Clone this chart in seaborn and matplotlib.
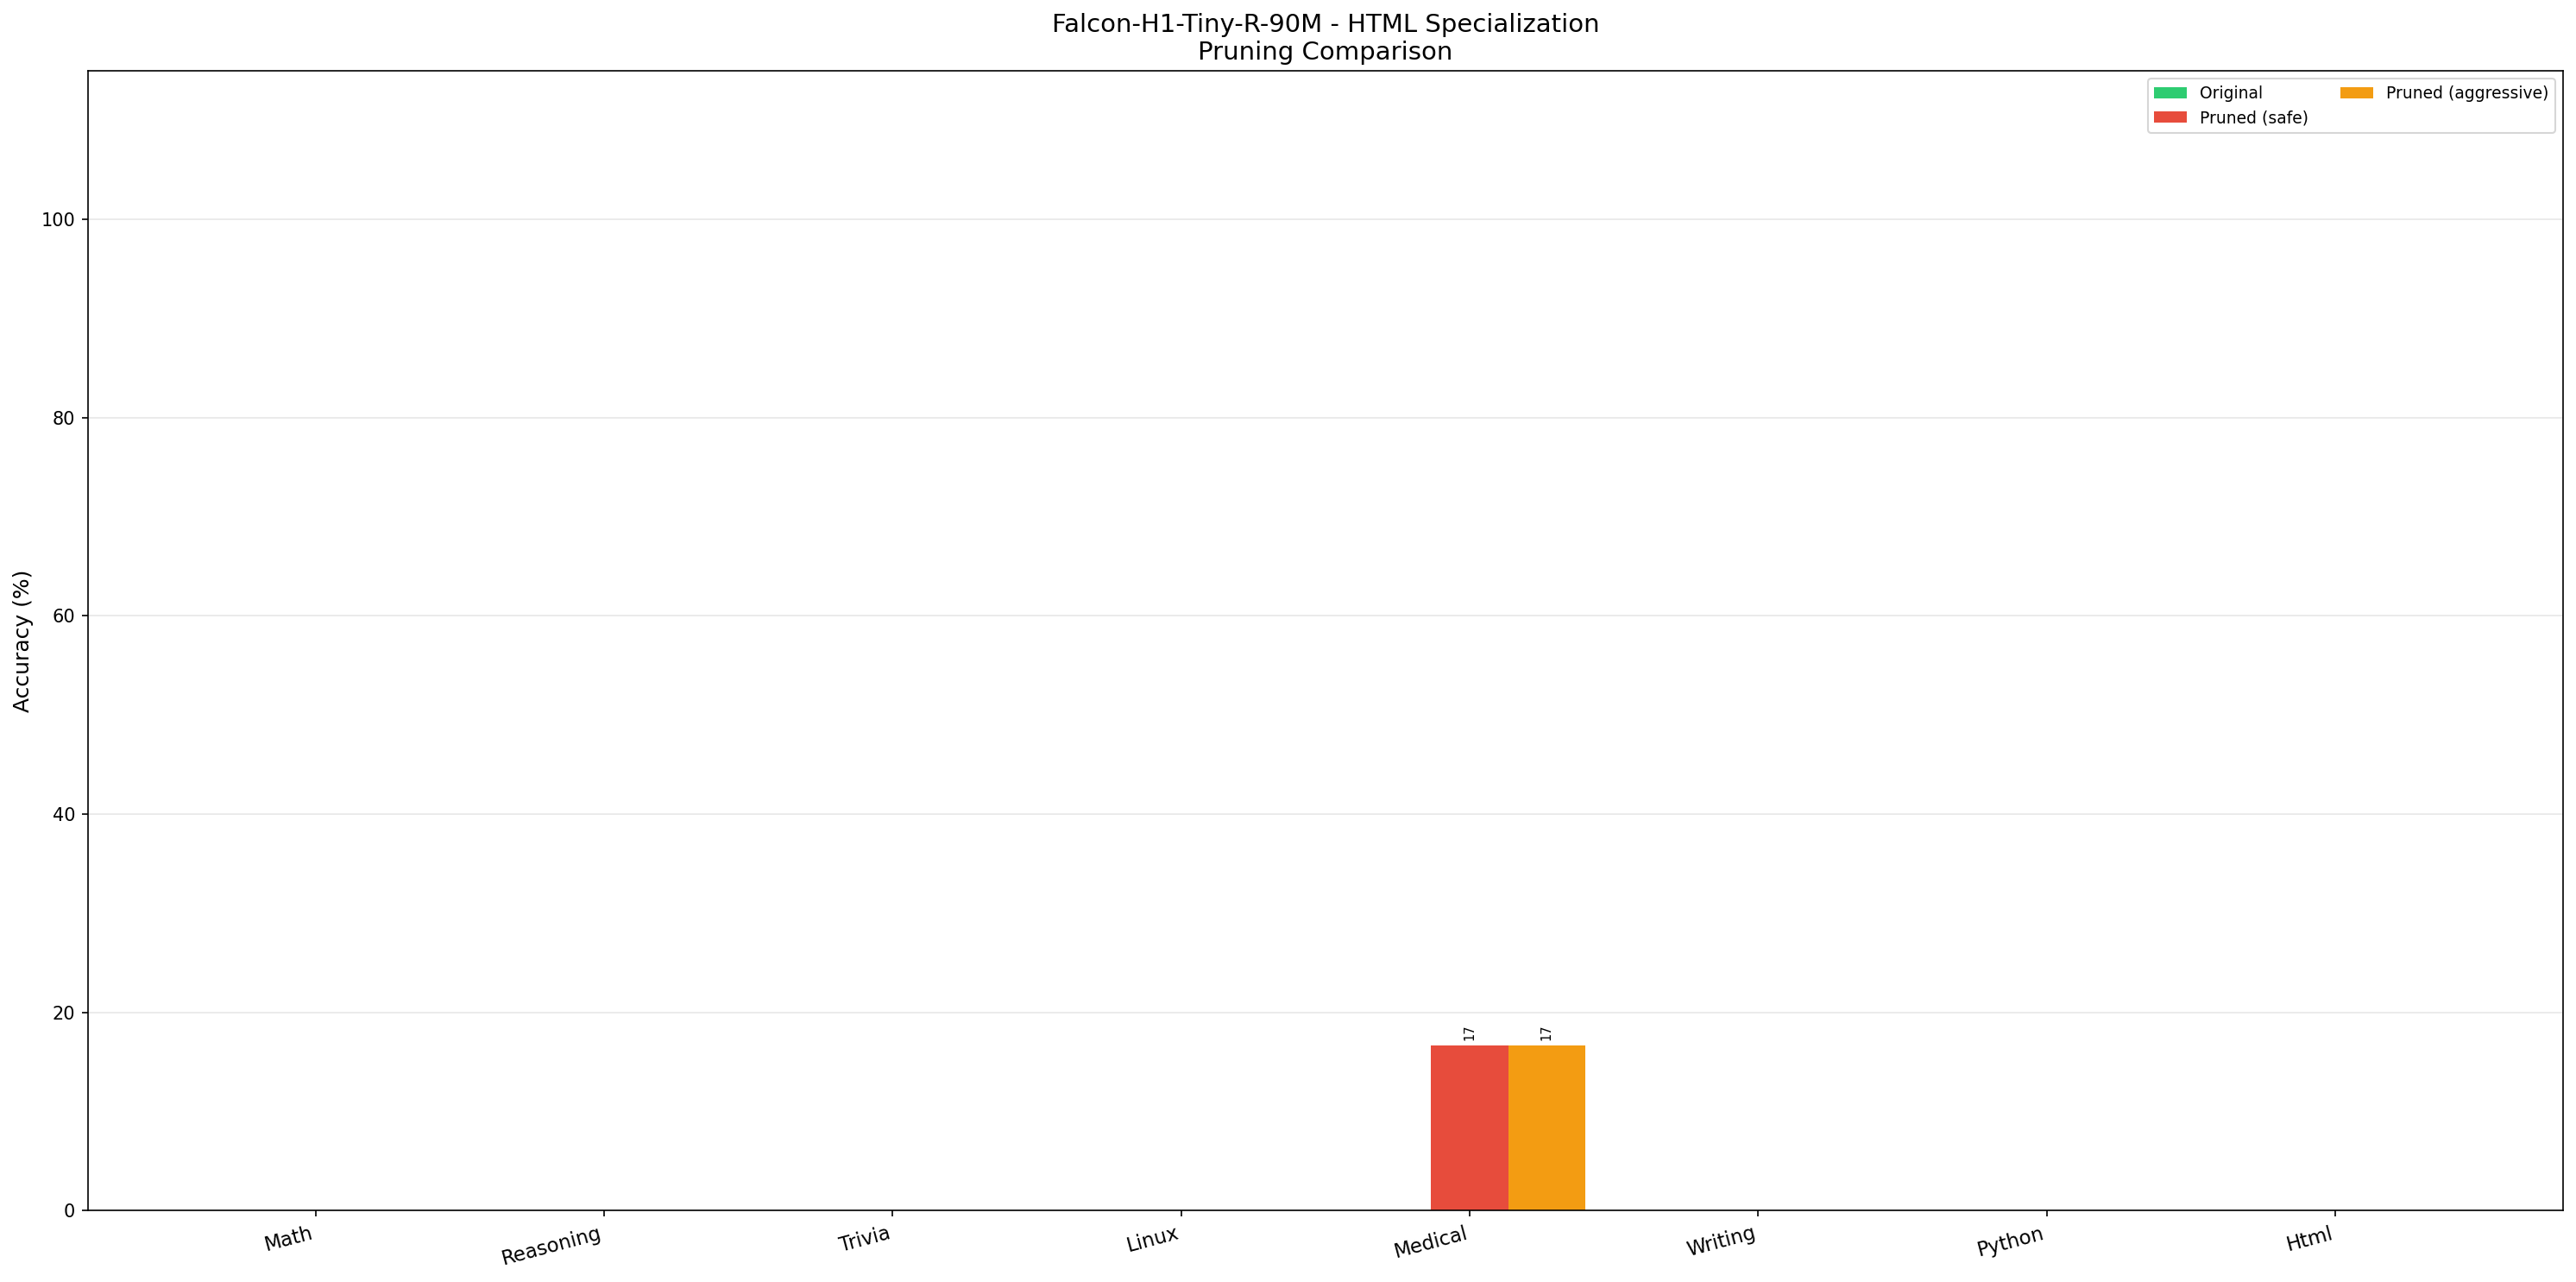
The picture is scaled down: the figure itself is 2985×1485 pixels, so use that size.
import numpy as np
import pandas as pd
import matplotlib
matplotlib.use("Agg")
import matplotlib.pyplot as plt
import seaborn as sns

### Data
CATEGORIES = ["Math", "Reasoning", "Trivia", "Linux", "Medical", "Writing", "Python", "Html"]
SERIES = ["Original", "Pruned (safe)", "Pruned (aggressive)"]
ORIGINAL = [0, 0, 0, 0, 0, 0, 0, 0]
PRUNED_SAFE = [0, 0, 0, 0, 16.67, 0, 0, 0]
PRUNED_AGGR = [0, 0, 0, 0, 16.67, 0, 0, 0]
COLORS = ["#2ecc71", "#e74c3c", "#f39c12"]

df = pd.DataFrame({
    "category": CATEGORIES * 3,
    "model": [s for s in SERIES for _ in CATEGORIES],
    "accuracy": ORIGINAL + PRUNED_SAFE + PRUNED_AGGR,
})

### Plot
fig, ax = plt.subplots(figsize=(20, 10), dpi=150)
sns.barplot(data=df, x="category", y="accuracy", hue="model",
            order=CATEGORIES, hue_order=SERIES, palette=COLORS,
            saturation=1, linewidth=0, errorbar=None, ax=ax)

# value labels on non-zero bars
for cont in ax.containers:
    for bar in cont:
        h = bar.get_height()
        if h > 0:
            ax.text(bar.get_x() + bar.get_width() / 2, h + 0.5, f"{h:.0f}",
                    ha="center", va="bottom", rotation=90, fontsize=7)

# matplotlib-like x margins instead of seaborn's fixed limits
ax.set_autoscalex_on(True)
ax.margins(x=0.05)
ax.autoscale_view(scaley=False)

ax.set_xlabel("")
ax.set_ylabel("Accuracy (%)", fontsize=12)
ax.set_title("Falcon-H1-Tiny-R-90M - HTML Specialization\nPruning Comparison", fontsize=14)
ax.set_ylim(0, 115)
ax.set_xticks(range(len(CATEGORIES)))
ax.set_xticklabels(CATEGORIES, rotation=15, ha="right", fontsize=11)
ax.grid(axis="y", alpha=0.3)
ax.set_axisbelow(True)
ax.legend(loc="upper right", ncol=2, fontsize=9)

plt.tight_layout()
plt.savefig("out.png", dpi=150, bbox_inches="tight")
